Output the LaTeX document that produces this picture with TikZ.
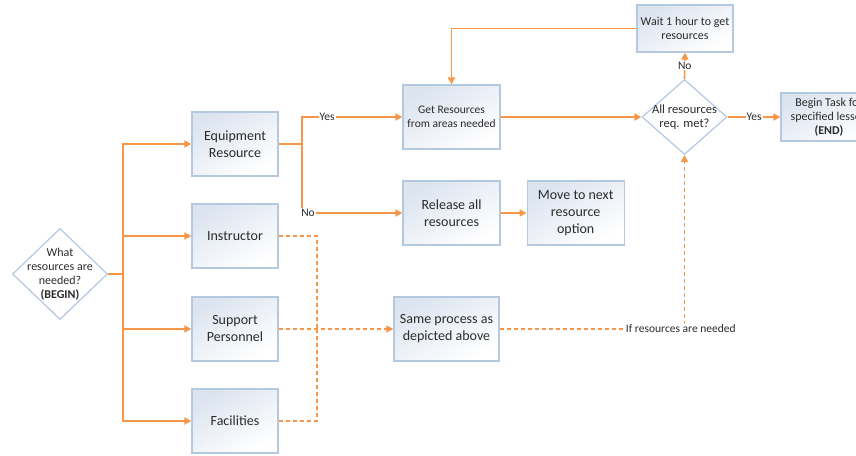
\documentclass[tikz,border=0pt]{standalone}
\usepackage{fontspec}
\setmainfont{Carlito}
\usetikzlibrary{positioning,arrows.meta,shapes.geometric}

\definecolor{flow}{HTML}{F79646}
\definecolor{boxline}{HTML}{B4C8E0}
\definecolor{boxtop}{HTML}{DCE4F0}
\definecolor{txt}{HTML}{2B2B2B}

\begin{document}
\begin{tikzpicture}[
  x=1pt, y=-1pt,
  box/.style={draw=boxline, line width=1.2pt, top color=boxtop, bottom color=white,
    shading angle=30, minimum width=86pt, minimum height=64pt, inner sep=2pt,
    align=center, text=txt, font=\fontsize{14}{17}\selectfont},
  smallbox/.style={box, minimum width=97pt, font=\fontsize{11.5}{14}\selectfont},
  decision/.style={diamond, draw=boxline, line width=1.2pt, fill=white, inner sep=0pt},
  dtext/.style={align=center, text=txt, font=\fontsize{12}{14}\selectfont},
  line/.style={draw=flow, line width=1.6pt},
  arr/.style={line, -{Triangle[length=7pt,width=7pt]}},
  dline/.style={line, line width=1.3pt, dash pattern=on 4pt off 3pt},
  darr/.style={dline, -{Triangle[length=7pt,width=7pt]}},
  lbl/.style={fill=white, inner sep=1pt, text=txt, font=\fontsize{11.5}{14}\selectfont},
  ]
  \useasboundingbox (0,0) rectangle (856,455);

  % start and the four resource kinds
  \node[decision, minimum width=95pt, minimum height=91pt,
    label={[dtext]center:What\\resources are\\needed?\\\textbf{(BEGIN)}}] (what) at (60,274) {};
  \node[box] (equip) at (235,144) {Equipment\\Resource};
  \node[box] (instr) at (235,236) {Instructor};
  \node[box] (supp)  at (235,329) {Support\\Personnel};
  \node[box] (fac)   at (235,421) {Facilities};

  % upper process
  \node[smallbox] (get) at (451.5,117) {Get Resources\\from areas needed};
  \node[box, minimum width=97pt] (release) at (451.5,213) {Release all\\resources};
  \node[box, minimum width=97pt, right=26pt of release] (move) {Move to next\\resource\\option};
  \node[decision, minimum width=85pt, minimum height=75pt,
    label={[dtext, font=\fontsize{12.5}{14}\selectfont]center:All resources\\req. met?}] (all) at (684.5,117) {};
  \node[smallbox, minimum width=96pt, minimum height=47pt, font=\fontsize{12}{14}\selectfont] (wait) at (685,28.5) {Wait 1 hour to get\\resources};
  \node[smallbox, minimum width=96pt, minimum height=48pt, font=\fontsize{12}{14}\selectfont] (begin) at (829,117) {Begin Task for\\specified lesson\\\textbf{(END)}};
  \node[box, minimum width=105pt] (same) at (446.5,329) {Same process as\\depicted above};

  \coordinate (trunk) at (123,274);
  \coordinate (split) at (302,144);
  \coordinate (merge) at (317,329);

  \draw[line] (what.east) -- (trunk);
  \foreach \n in {equip,instr,supp,fac}
    \draw[arr] (trunk) |- (\n.west);

  \draw[line] (equip.east) -- (split);
  \draw[arr] (split) |- node[lbl, pos=0.625] {Yes} (get.west);
  \draw[arr] (split) |- node[lbl, pos=0.53] {No} (release.west);
  \draw[arr] (release) -- (move);
  \draw[arr] (get) -- (all);
  \draw[arr] (all.north) -- node[lbl] {No} (wait.south);
  \draw[arr] (wait.west) -| (get.north);
  \draw[arr] (all.east) -- node[lbl] {Yes} (begin.west);

  % the other kinds go through the same process
  \draw[dline] (instr.east) -| (merge);
  \draw[dline] (fac.east) -| (merge);
  \draw[darr] (supp.east) -- (same.west);
  \draw[darr] (same.east) -| node[lbl, pos=0.49] {If resources are needed} (all.south);

\end{tikzpicture}
\end{document}
